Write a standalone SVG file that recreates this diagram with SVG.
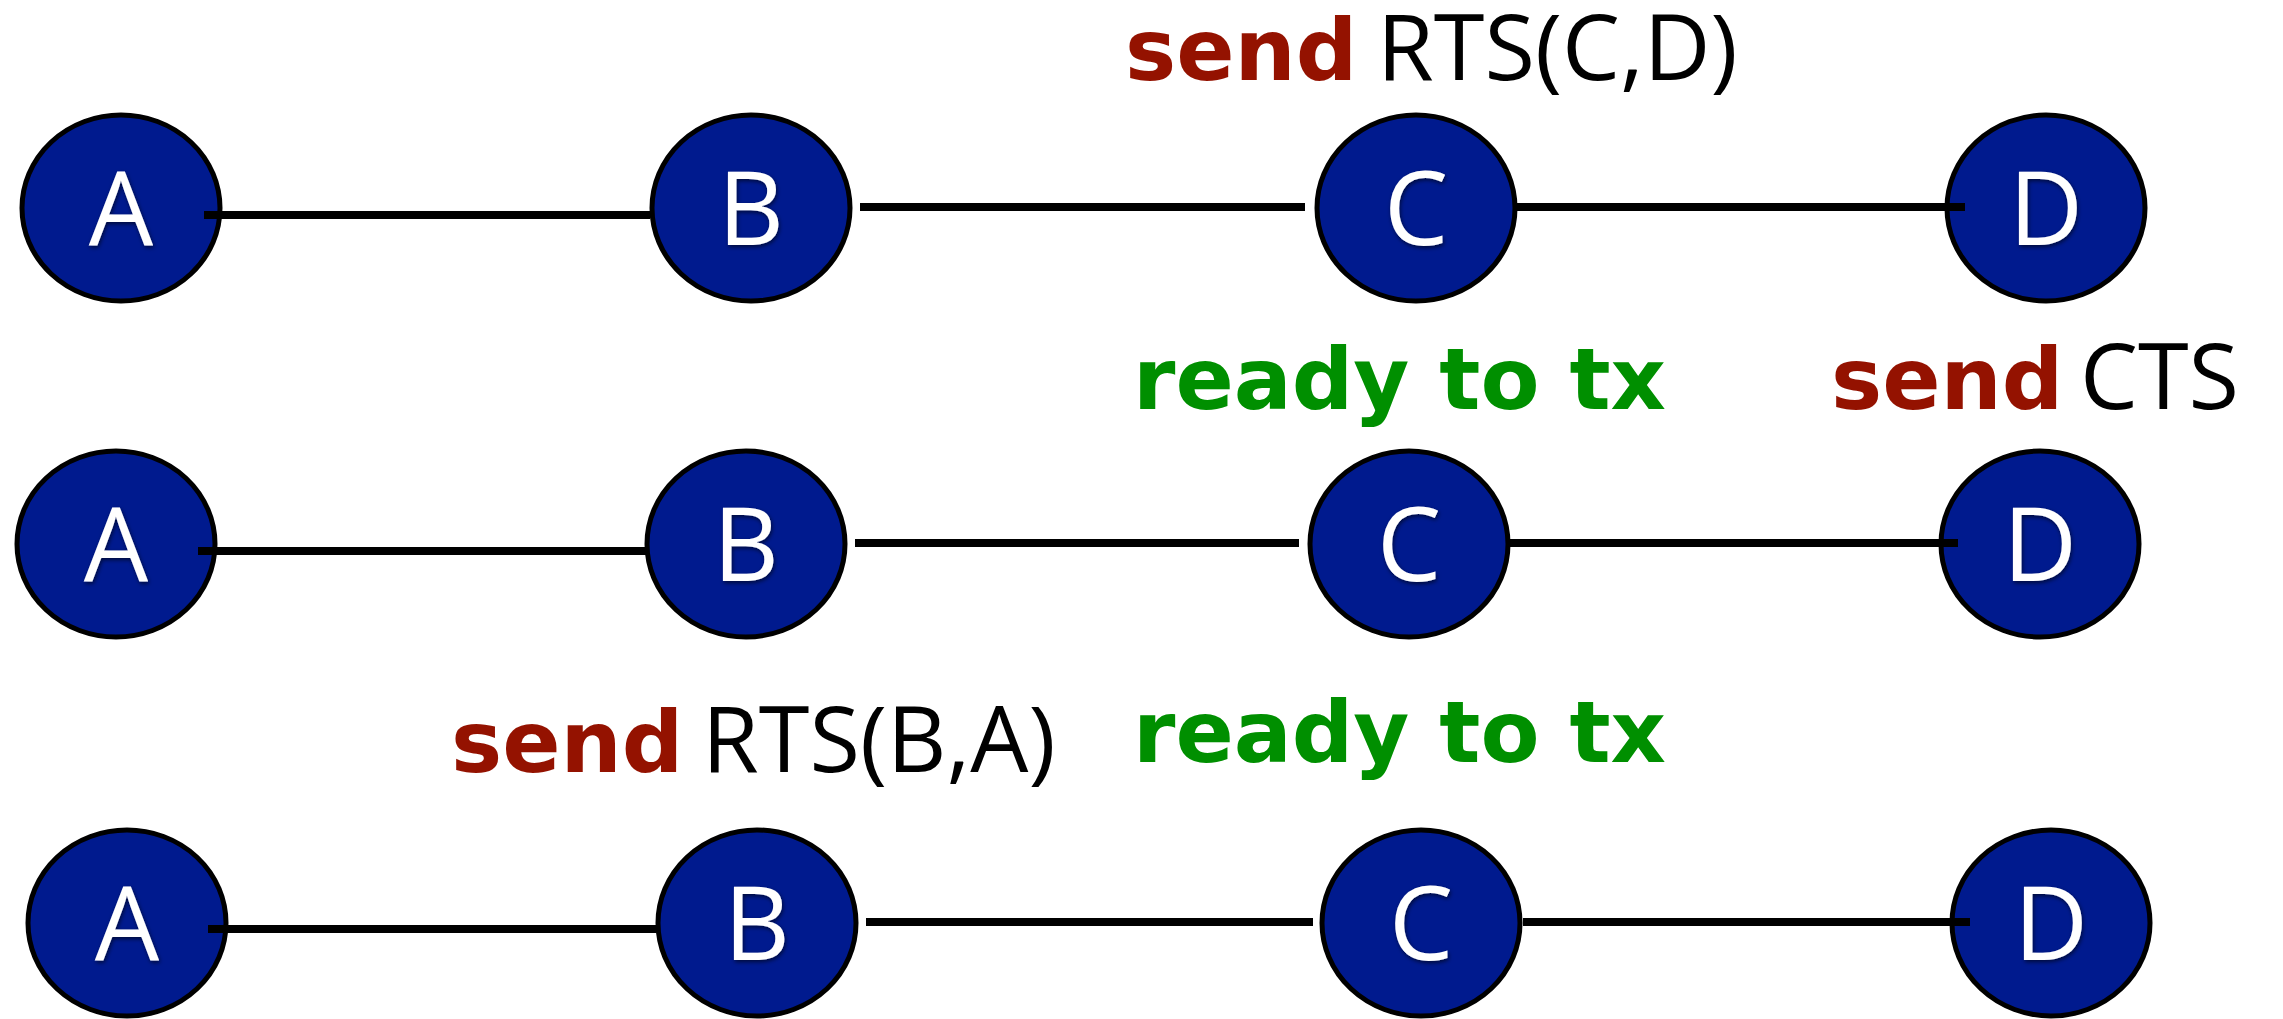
<svg xmlns="http://www.w3.org/2000/svg" width="2283" height="1019" viewBox="0 0 2283 1019">
<style>
.node ellipse{fill:#001a8e;stroke:#000;stroke-width:5}
.node text{fill:#fff;font-family:"Open Sans","Liberation Sans",sans-serif;font-size:102px;text-anchor:middle;filter:url(#sh)}
.edge{stroke:#000;stroke-width:8;fill:none}
.b{font-family:"DejaVu Sans","Verdana",sans-serif;font-weight:bold;font-size:86px}
.red{fill:#941200}
.grn{fill:#008f00}
.reg{font-family:"Open Sans","Liberation Sans",sans-serif;font-size:92px;fill:#000}
</style>
<defs>
<filter id="sh" x="-20%" y="-20%" width="140%" height="140%">
<feDropShadow dx="1" dy="2" stdDeviation="2" flood-color="#000" flood-opacity="0.6"/>
</filter>
</defs>
<rect width="2283" height="1019" fill="#fff"/>
<g id="row1-A" class="node"><ellipse cx="121" cy="208" rx="99" ry="93"/><text x="121" y="245">A</text></g>
<g id="row1-B" class="node"><ellipse cx="751" cy="208" rx="99" ry="93"/><text x="751" y="245">B</text></g>
<g id="row1-C" class="node"><ellipse cx="1416" cy="208" rx="99" ry="93"/><text x="1416" y="245">C</text></g>
<g id="row1-D" class="node"><ellipse cx="2046" cy="208" rx="99" ry="93"/><text x="2046" y="245">D</text></g>
<g id="row2-A" class="node"><ellipse cx="116" cy="544" rx="99" ry="93"/><text x="116" y="581">A</text></g>
<g id="row2-B" class="node"><ellipse cx="746" cy="544" rx="99" ry="93"/><text x="746" y="581">B</text></g>
<g id="row2-C" class="node"><ellipse cx="1409" cy="544" rx="99" ry="93"/><text x="1409" y="581">C</text></g>
<g id="row2-D" class="node"><ellipse cx="2040" cy="544" rx="99" ry="93"/><text x="2040" y="581">D</text></g>
<g id="row3-A" class="node"><ellipse cx="127" cy="923" rx="99" ry="93"/><text x="127" y="960">A</text></g>
<g id="row3-B" class="node"><ellipse cx="757" cy="923" rx="99" ry="93"/><text x="757" y="960">B</text></g>
<g id="row3-C" class="node"><ellipse cx="1421" cy="923" rx="99" ry="93"/><text x="1421" y="960">C</text></g>
<g id="row3-D" class="node"><ellipse cx="2051" cy="923" rx="99" ry="93"/><text x="2051" y="960">D</text></g>
<g id="connectors">
<line class="edge" x1="204" y1="215" x2="650" y2="215"/>
<line class="edge" x1="860" y1="207" x2="1305" y2="207"/>
<line class="edge" x1="1516" y1="207" x2="1965" y2="207"/>
<line class="edge" x1="198" y1="551" x2="646" y2="551"/>
<line class="edge" x1="855" y1="543" x2="1299" y2="543"/>
<line class="edge" x1="1510" y1="543" x2="1958" y2="543"/>
<line class="edge" x1="208" y1="929" x2="656" y2="929"/>
<line class="edge" x1="866" y1="922" x2="1313" y2="922"/>
<line class="edge" x1="1523" y1="922" x2="1970" y2="922"/>
</g>
<g id="labels">
<text class="b red" x="1125" y="80">send</text>
<text class="reg" x="1377" y="80">RTS(C,D)</text>
<text class="b grn" x="1133" y="409">ready to tx</text>
<text class="b red" x="1831" y="409">send</text>
<text class="reg" x="2080" y="409">CTS</text>
<text class="b red" x="451" y="772">send</text>
<text class="reg" x="702" y="772">RTS(B,A)</text>
<text class="b grn" x="1133" y="762">ready to tx</text>
</g>
</svg>
